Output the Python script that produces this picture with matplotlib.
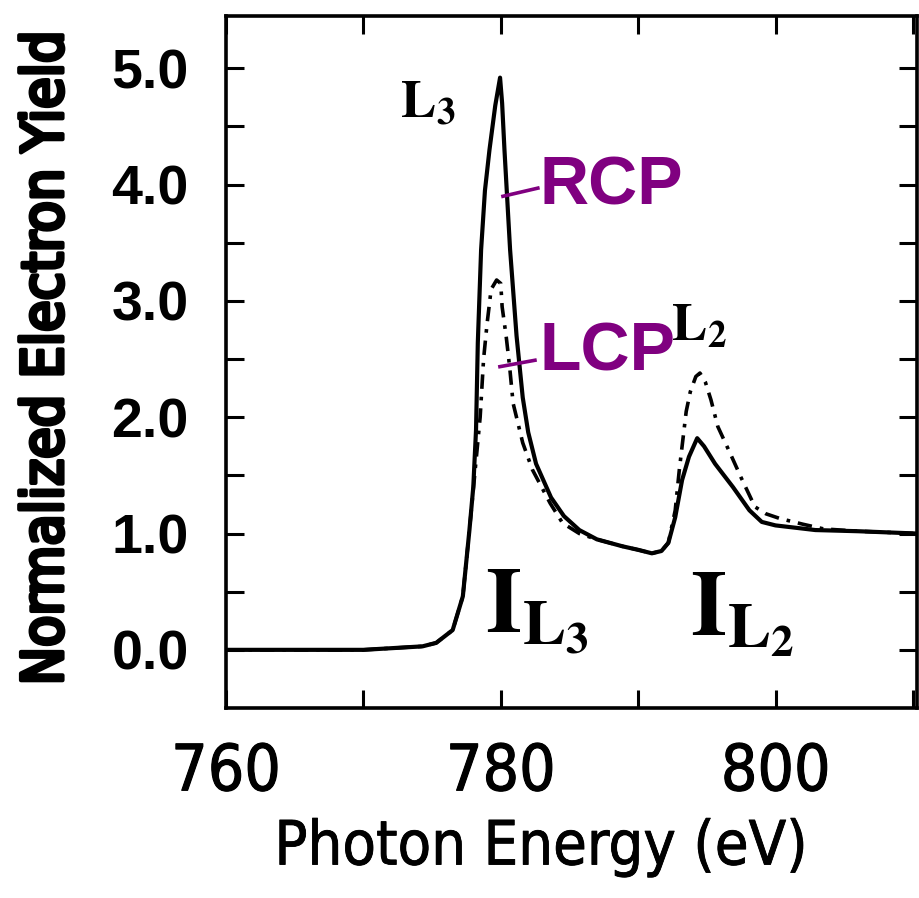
"""
L2,3-edge XMCD spectra: normalized electron yield for right (RCP) and
left (LCP) circularly polarized photons.
"""
import matplotlib
matplotlib.use("Agg")
import matplotlib.pyplot as plt
import matplotlib.patheffects as pe
from matplotlib.ticker import FixedLocator, NullFormatter
from matplotlib import font_manager

PURPLE = "#800080"
plt.rcParams.update({"mathtext.fontset": "stix", "figure.facecolor": "white"})

# photon energy (eV) and yields
energy_rcp = [760, 770, 774.3, 775.3, 776.5, 777.24, 777.72, 778.0, 778.2, 778.33,
              778.57, 778.85, 779.18, 779.6, 779.95, 780.1, 780.27, 780.68, 781.15,
              781.6, 782.0, 782.57, 783.66, 784.6, 785.72, 787.0, 788.87, 790.0,
              791.0, 791.7, 792.2, 792.7, 793.2, 793.7, 794.3, 794.8, 795.6, 796.9,
              798.1, 799.0, 800.0, 802.9, 806.0, 810.3]
rcp = [0.0, 0.0, 0.03, 0.06, 0.17, 0.46, 1.03, 1.4, 1.89, 2.64,
       3.44, 3.95, 4.3, 4.68, 4.92, 4.7, 4.3, 3.44, 2.7,
       2.17, 1.87, 1.6, 1.31, 1.15, 1.03, 0.95, 0.89, 0.86,
       0.83, 0.85, 0.92, 1.14, 1.46, 1.66, 1.82, 1.75, 1.6, 1.4,
       1.2, 1.1, 1.07, 1.03, 1.02, 1.0]

energy_lcp = [760, 770, 774.3, 775.3, 776.5, 777.24, 777.72, 778.1, 778.5, 778.75,
              779.0, 779.3, 779.7, 780.0, 780.1, 780.4, 780.65, 780.9, 781.6,
              782.3, 783.6, 784.5, 785.72, 787.0, 788.87, 790.0, 791.0, 791.7,
              792.2, 792.7, 793.0, 793.3, 793.5, 793.8, 794.2, 794.5, 794.9,
              795.3, 795.8, 796.7, 797.5, 798.5, 799.3, 800.3, 802.0, 803.5,
              806.0, 810.3]
lcp = [0.0, 0.0, 0.03, 0.06, 0.17, 0.46, 1.03, 1.5, 2.0, 2.5,
       2.8, 3.1, 3.18, 3.15, 2.95, 2.69, 2.43, 2.12, 1.78,
       1.55, 1.26, 1.09, 1.0, 0.95, 0.89, 0.86, 0.83, 0.85,
       0.92, 1.2, 1.55, 1.85, 2.05, 2.22, 2.35, 2.38, 2.3,
       2.15, 1.92, 1.69, 1.48, 1.23, 1.17, 1.13, 1.08, 1.04,
       1.02, 1.0]

x_major = [760, 780, 800]
x_minor = [770, 790, 810]
y_major = [0.0, 1.0, 2.0, 3.0, 4.0, 5.0]
y_minor = [0.5, 1.5, 2.5, 3.5, 4.5]

# condensed face for the axis texts
TICK_X = font_manager.FontProperties(family="DejaVu Sans", stretch="condensed", size=46)
XLAB = font_manager.FontProperties(family="DejaVu Sans", stretch="condensed", size=44)
YLAB = font_manager.FontProperties(family="DejaVu Sans", stretch="condensed", size=41)

fig = plt.figure(figsize=(9.19, 8.98), dpi=100)
ax = fig.add_axes([226 / 919, 1 - 708 / 898, (917 - 226) / 919, (708 - 16) / 898])

ax.plot(energy_rcp, rcp, color="black", lw=3.0, solid_joinstyle="round", zorder=3)
ax.plot(energy_lcp, lcp, color="black", lw=2.6, linestyle=(0, (4, 2.2, 1, 2.2)), zorder=2)

ax.set_xlim(760, 810.3)
ax.set_ylim(-0.5, 5.45)
ax.xaxis.set_major_locator(FixedLocator(x_major))
ax.xaxis.set_minor_locator(FixedLocator(x_minor))
ax.yaxis.set_major_locator(FixedLocator(y_major))
ax.yaxis.set_minor_locator(FixedLocator(y_minor))
ax.xaxis.set_minor_formatter(NullFormatter())
ax.set_yticklabels([f"{v:.1f}" for v in y_major])

ax.tick_params(which="both", direction="in", top=True, right=True, length=13, width=2.2)
ax.tick_params(axis="x", pad=24)
ax.tick_params(axis="y", pad=27)
for lab in ax.get_xticklabels():
    lab.set_fontproperties(TICK_X)
    lab.set_path_effects([pe.withStroke(linewidth=0.8, foreground="black")])
for lab in ax.get_yticklabels():
    lab.set_family("Liberation Sans")
    lab.set_fontsize(40)
    lab.set_fontweight("bold")
for sp in ax.spines.values():
    sp.set_linewidth(2.6)

# peak labels
ax.text(774.7, 4.71, r"$\mathbf{L_3}$", fontsize=38, ha="center", va="center")
ax.text(794.4, 2.79, r"$\mathbf{L_2}$", fontsize=38, ha="center", va="center")
ax.text(778.85, 0.15, r"$\mathbf{I_{L_3}}$", fontsize=66, ha="left", va="baseline")
ax.text(793.77, 0.13, r"$\mathbf{I_{L_2}}$", fontsize=66, ha="left", va="baseline")

# polarisation labels with purple leaders
ax.plot([780.16, 782.7], [3.90, 3.97], color=PURPLE, lw=2.6, zorder=4)
ax.text(782.85, 3.825, "RCP", color=PURPLE, fontsize=49, fontweight="bold",
        family="Liberation Sans", ha="left", va="baseline")
ax.plot([779.94, 782.49], [2.435, 2.49], color=PURPLE, lw=2.6, zorder=4)
ax.text(782.85, 2.406, "LCP", color=PURPLE, fontsize=49, fontweight="bold",
        family="Liberation Sans", ha="left", va="baseline")

fig.text(47 / 919, 1 - 357 / 898, "Normalized Electron Yield", rotation=90,
         ha="center", va="center", fontproperties=YLAB,
         path_effects=[pe.withStroke(linewidth=3.0, foreground="black")])
fig.text(541 / 919, 1 - 848 / 898, "Photon Energy (eV)", ha="center", va="center",
         fontproperties=XLAB,
         path_effects=[pe.withStroke(linewidth=0.6, foreground="black")])

fig.savefig("out.png", dpi=100, facecolor="white")
